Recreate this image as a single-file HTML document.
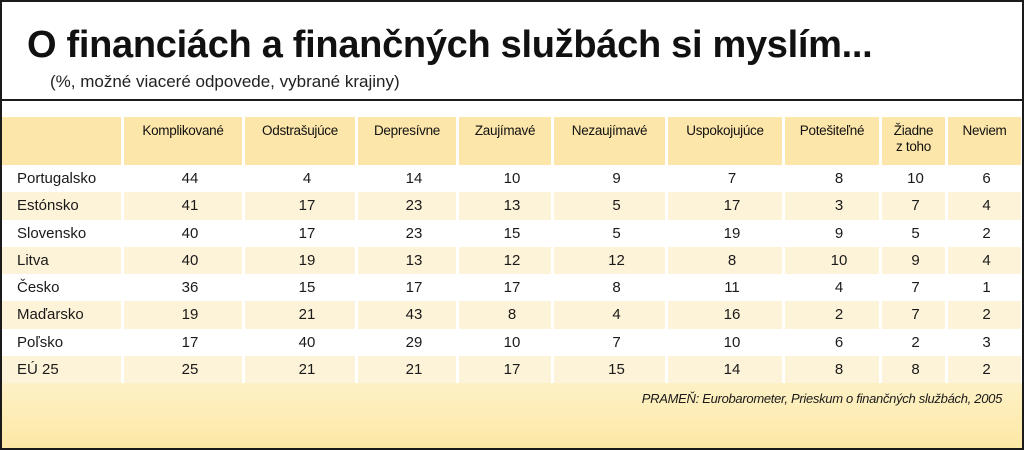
<!DOCTYPE html>
<html><head><meta charset="utf-8"><style>
*{margin:0;padding:0;box-sizing:border-box}
body{width:1024px;height:450px;overflow:hidden;background:#fff;font-family:"Liberation Sans Narrow","Liberation Sans",sans-serif;color:#1a1a1a;position:relative}
#frame{position:absolute;left:0;top:0;width:1024px;height:450px;border:2px solid #1a1a1a;z-index:5;pointer-events:none}
#title{position:absolute;left:27px;top:24px;font:bold 38px "Liberation Sans",sans-serif;letter-spacing:-0.3px;white-space:nowrap;color:#111}
#sub{position:absolute;left:50px;top:72px;font:17px "Liberation Sans",sans-serif;color:#222;white-space:nowrap}
#sep{position:absolute;left:0;top:99px;width:1024px;height:2px;background:#1a1a1a}
#foot{position:absolute;left:0;top:383px;width:1024px;height:67px;background:linear-gradient(#fdf1c6,#fde8a4)}
#src{position:absolute;right:22px;top:8px;font-style:italic;font-size:13px;white-space:nowrap;letter-spacing:-0.3px}
.cell{position:absolute;font-size:15px;display:flex;align-items:center;justify-content:center;white-space:nowrap}
.hd{background:#fde6a9;line-height:16px;text-align:center;font-size:13.5px;align-items:flex-start;padding-top:6px;color:#111;letter-spacing:-0.3px}
</style></head><body>
<div id="frame"></div>
<div id="title">O financiách a finančných službách si myslím...</div>
<div id="sub">(%, možné viaceré odpovede, vybrané krajiny)</div>
<div id="sep"></div>
<div id="foot"><div id="src">PRAMEŇ: Eurobarometer, Prieskum o finančných službách, 2005</div></div>
<div id="tbl"></div>
<script>
const columns=["Komplikované","Odstrašujúce","Depresívne","Zaujímavé","Nezaujímavé","Uspokojujúce","Potešiteľné","Žiadne<br>z toho","Neviem"];
const countries=["Portugalsko","Estónsko","Slovensko","Litva","Česko","Maďarsko","Poľsko","EÚ 25"];
const komplikovane=[44,41,40,40,36,19,17,25];
const odstrasujuce=[4,17,17,19,15,21,40,21];
const depresivne=[14,23,23,13,17,43,29,21];
const zaujimave=[10,13,15,12,17,8,10,17];
const nezaujimave=[9,5,5,12,8,4,7,15];
const uspokojujuce=[7,17,19,8,11,16,10,14];
const potesitelne=[8,3,9,10,4,2,6,8];
const ziadne=[10,7,5,9,7,7,2,8];
const neviem=[6,4,2,4,1,2,3,2];
const series=[komplikovane,odstrasujuce,depresivne,zaujimave,nezaujimave,uspokojujuce,potesitelne,ziadne,neviem];
const colX=[2,124,245,358,459,554,668,785,882,948,1021];
const hTop=117,hBot=165,rowH=27.25;
const tbl=document.getElementById('tbl');
function mk(cls,x,y,w,h,html,bg){const d=document.createElement('div');d.className='cell '+cls;d.style.left=x+'px';d.style.top=y+'px';d.style.width=w+'px';d.style.height=h+'px';if(bg)d.style.background=bg;d.innerHTML=html;tbl.appendChild(d);return d;}
for(let c=0;c<=columns.length;c++){
 const x=colX[c],w=colX[c+1]-colX[c]-(c<columns.length?3:0);
 const d=mk('hd',x,hTop,w,hBot-hTop,c===0?'':columns[c-1]);
 
 
}
countries.forEach((name,r)=>{
 const y=hBot+r*rowH,bg=r%2?'#fdf3d8':'#fff';
 for(let c=0;c<=columns.length;c++){
  const x=colX[c],w=colX[c+1]-colX[c]-(c<columns.length?3:0);
  const d=mk('',x,y,w,rowH,c===0?name:series[c-1][r],bg);
  if(c===0){d.style.justifyContent='flex-start';d.style.paddingLeft='15px';}
  else{d.style.paddingLeft=(c>=8?'4px':'14px');}
  
  
 }
});
</script>
</body></html>
